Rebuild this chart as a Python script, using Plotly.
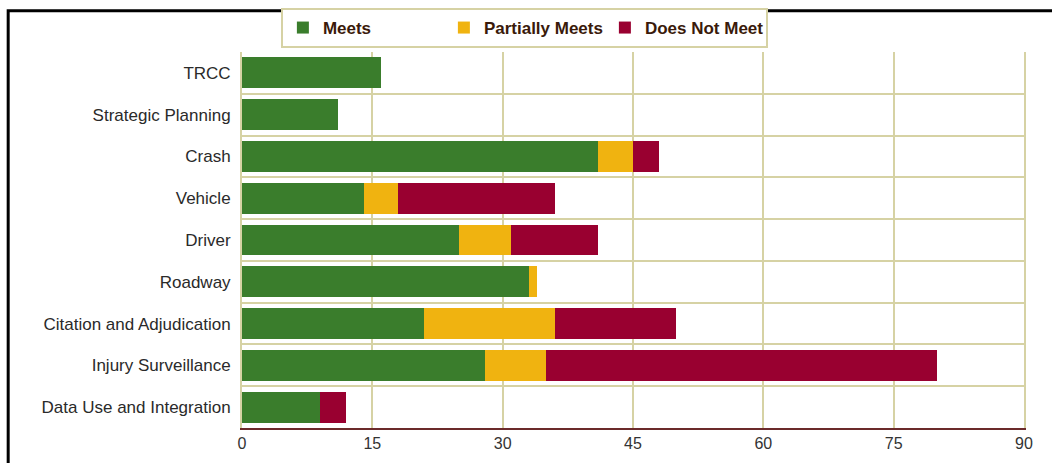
import plotly.graph_objects as go

categories = ["TRCC", "Strategic Planning", "Crash", "Vehicle", "Driver", "Roadway",
              "Citation and Adjudication", "Injury Surveillance", "Data Use and Integration"]
meets = [16, 11, 41, 14, 25, 33, 21, 28, 9]
partially = [0, 0, 4, 4, 6, 1, 15, 7, 0]
not_meet = [0, 0, 3, 18, 10, 0, 14, 45, 3]
x_ticks = [0, 15, 30, 45, 60, 75, 90]

GRID = "#d6d2a4"
fig = go.Figure()
for name, vals, col in [("Meets", meets, "#3a7d2c"),
                        ("Partially Meets", partially, "#f0b310"),
                        ("Does Not Meet", not_meet, "#990030")]:
    fig.add_trace(go.Bar(y=categories, x=vals, name=name, orientation="h",
                         marker=dict(color=col, line=dict(width=0))))

fig.update_layout(
    barmode="stack", bargap=0.26,
    width=1052, height=463,
    margin=dict(l=242, r=28, t=52, b=35, autoexpand=False),
    paper_bgcolor="white", plot_bgcolor="white",
    font=dict(family="Liberation Sans, Arial, sans-serif", size=14, color="#333333"),
    legend=dict(orientation="h", xref="container", yref="container",
                x=0.267, y=1 - 28 / 463, xanchor="left", yanchor="middle",
                bgcolor="white", bordercolor=GRID, borderwidth=2,
                font=dict(size=17, color="#3a1a0a", weight="bold"),
                entrywidth=116, itemwidth=30, traceorder="normal"),
    xaxis=dict(range=[0, 90], tickvals=x_ticks, showgrid=True, gridcolor=GRID, gridwidth=2,
               zeroline=False, showline=True, linecolor="#6b2a2a", linewidth=2,
               ticks="", tickfont=dict(size=16, family="Liberation Sans Narrow, Arial Narrow, sans-serif", color="#333333")),
    yaxis=dict(type="category", autorange="reversed", tickson="boundaries", showgrid=True,
               gridcolor=GRID, gridwidth=2, ticks="", showline=True, mirror=True,
               linecolor=GRID, linewidth=2, tickfont=dict(size=17, color="#2a2a2a"), ticklabelstandoff=6),
    shapes=[dict(type="rect", xref="paper", yref="paper",
                 x0=-0.299, x1=1.2, y0=-0.3, y1=1.11,
                 line=dict(color="black", width=3), fillcolor="rgba(0,0,0,0)")],
)
fig.write_html("out.html")
